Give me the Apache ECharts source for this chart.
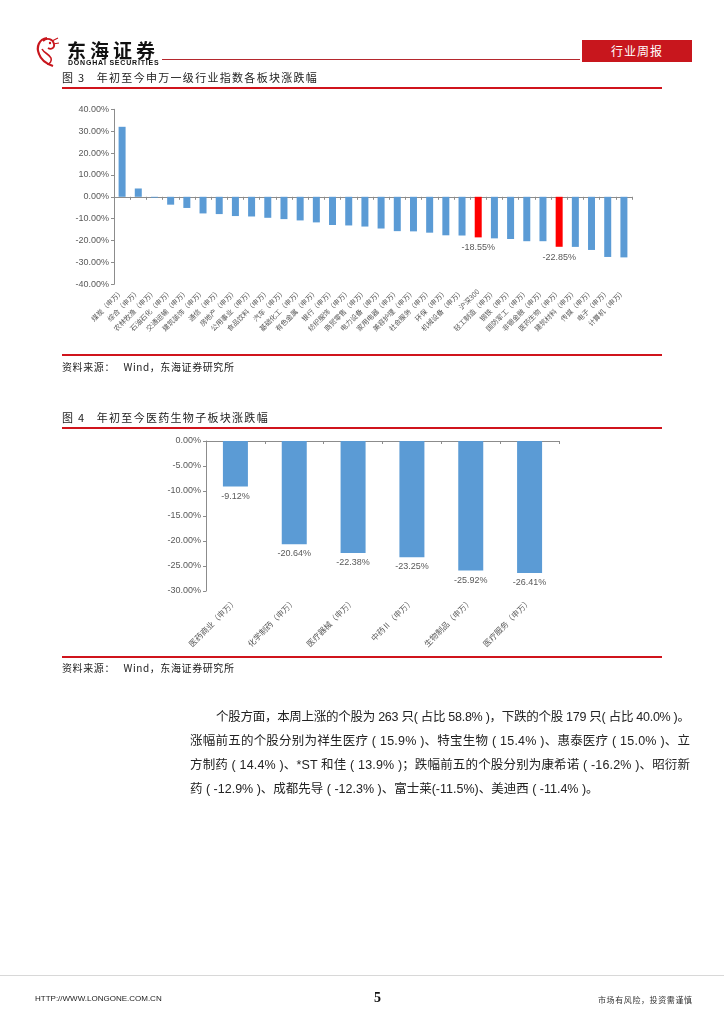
<!DOCTYPE html>
<html><head><meta charset="utf-8">
<script src="https://cdn.jsdelivr.net/npm/echarts@6/dist/echarts.min.js"></script>
<style>
html,body{margin:0;padding:0;background:#fff;}
body{width:724px;height:1024px;position:relative;overflow:hidden;font-family:"Noto Sans CJK SC","Liberation Sans",sans-serif;color:#222;}
.abs{position:absolute;white-space:nowrap;}
.rl{position:absolute;height:2px;background:#d0141c;}
.cap{font-size:11px;color:#222;letter-spacing:1.3px;}
.src{font-size:10px;color:#222;letter-spacing:0.6px;}
.para{position:absolute;left:190px;width:500px;font-size:12.5px;line-height:24px;color:#222;font-family:"Liberation Sans","Noto Sans CJK SC",sans-serif;}
.para div{white-space:nowrap;}
.para span{display:inline-block;}
#chart{position:absolute;left:0;top:0;width:724px;height:1024px;}
</style></head>
<body>
<div id="chart"></div>

<!-- header -->
<svg class="abs" style="left:33px;top:35px" width="28" height="34" viewBox="0 0 28 34">
  <path d="M14 3 C6 4 3 12 6 19 C8 25 14 29 20 31" stroke="#c8161d" stroke-width="2.2" fill="none"/>
  <path d="M10 6 C14 2 20 4 21 9 C22 13 18 15 15 13" stroke="#c8161d" stroke-width="1.8" fill="none"/>
  <path d="M9 14 C11 18 16 19 18 23 C19 26 17 29 14 29" stroke="#c8161d" stroke-width="1.6" fill="none"/>
  <path d="M19 6 L25 3 M20 9 L26 8" stroke="#c8161d" stroke-width="1.2"/>
  <circle cx="17" cy="8" r="1.2" fill="#c8161d"/>
</svg>
<div class="abs" style="left:67px;top:36px;font-size:19px;font-weight:bold;letter-spacing:4px;color:#111;">东海证券</div>
<div class="abs" style="left:68px;top:59px;font-size:7px;font-weight:bold;letter-spacing:0.8px;color:#111;font-family:'Liberation Sans';">DONGHAI SECURITIES</div>
<div class="abs" style="left:162px;top:59px;width:418px;height:1px;background:#b5282e;"></div>
<div class="abs" style="left:582px;top:40px;width:110px;height:22px;background:#c8161d;color:#fff;font-size:12px;line-height:22px;text-align:center;letter-spacing:1px;">行业周报</div>

<!-- figure 3 -->
<div class="abs cap" style="left:62px;top:69px;">图 3&nbsp;&nbsp;&nbsp;年初至今申万一级行业指数各板块涨跌幅</div>
<div class="rl" style="left:62px;top:87px;width:600px;"></div>
<div class="rl" style="left:62px;top:354px;width:600px;"></div>
<div class="abs src" style="left:62px;top:359px;">资料来源：&nbsp;&nbsp;&nbsp;Wind，东海证券研究所</div>

<!-- figure 4 -->
<div class="abs cap" style="left:62px;top:409px;">图 4&nbsp;&nbsp;&nbsp;年初至今医药生物子板块涨跌幅</div>
<div class="rl" style="left:62px;top:427px;width:600px;"></div>
<div class="rl" style="left:62px;top:656px;width:600px;"></div>
<div class="abs src" style="left:62px;top:660px;">资料来源：&nbsp;&nbsp;&nbsp;Wind，东海证券研究所</div>

<!-- paragraph -->
<div class="para" style="top:705px;">
  <div style="padding-left:26px;"><span data-w="474">个股方面，本周上涨的个股为 263 只( 占比 58.8% )，下跌的个股 179 只( 占比 40.0% )。</span></div>
  <div><span data-w="500">涨幅前五的个股分别为祥生医疗 ( 15.9% )、特宝生物 ( 15.4% )、惠泰医疗 ( 15.0% )、立</span></div>
  <div><span data-w="500">方制药 ( 14.4% )、*ST 和佳 ( 13.9% )；跌幅前五的个股分别为康希诺 ( -16.2% )、昭衍新</span></div>
  <div><span>药 ( -12.9% )、成都先导 ( -12.3% )、富士莱(-11.5%)、美迪西 ( -11.4% )。</span></div>
</div>

<!-- footer -->
<div class="abs" style="left:0;top:975px;width:724px;height:1px;background:#d8d8d8;"></div>
<div class="abs" style="left:35px;top:994px;font-size:8px;font-family:'Liberation Sans';color:#222;">HTTP://WWW.LONGONE.COM.CN</div>
<div class="abs" style="left:374px;top:990px;font-size:14px;font-weight:bold;font-family:'Liberation Serif';color:#111;">5</div>
<div class="abs" style="left:598px;top:994px;font-size:8px;letter-spacing:0.6px;color:#333;">市场有风险，投资需谨慎</div>

<script>
// fit paragraph lines to their widths
document.querySelectorAll('.para span[data-w]').forEach(s => {
  const target = +s.dataset.w;
  const w = s.getBoundingClientRect().width;
  const n = s.textContent.length;
  s.style.letterSpacing = ((target - w) / (n - 1)) + 'px';
});

// Figure 3 data
const categories1 = ['煤炭（申万）','综合（申万）','农林牧渔（申万）','石油石化（申万）','交通运输（申万）','建筑装饰（申万）','通信（申万）','房地产（申万）','公用事业（申万）','食品饮料（申万）','汽车（申万）','基础化工（申万）','有色金属（申万）','银行（申万）','纺织服饰（申万）','商贸零售（申万）','电力设备（申万）','家用电器（申万）','美容护理（申万）','社会服务（申万）','环保（申万）','机械设备（申万）','沪深300','轻工制造（申万）','钢铁（申万）','国防军工（申万）','非银金融（申万）','医药生物（申万）','建筑材料（申万）','传媒（申万）','电子（申万）','计算机（申万）'];
const values1 = [32.0,3.8,-0.4,-3.6,-5.1,-7.6,-7.9,-8.8,-9.0,-9.6,-10.2,-10.8,-11.7,-12.9,-13.1,-13.6,-14.5,-15.7,-15.8,-16.4,-17.6,-17.7,-18.55,-19.0,-19.3,-20.3,-20.3,-22.85,-22.9,-24.3,-27.5,-27.7];
const highlight1 = ['沪深300','医药生物（申万）'];
const yTicks1 = {min:-40, max:40, step:10};

// Figure 4 data
const categories2 = ['医药商业（申万）','化学制药（申万）','医疗器械（申万）','中药Ⅱ（申万）','生物制品（申万）','医疗服务（申万）'];
const values2 = [-9.12,-20.64,-22.38,-23.25,-25.92,-26.41];
const yTicks2 = {min:-30, max:0, step:5};

const BLUE = '#5b9bd5', RED = '#ff0000', AX = '#8c8c8c', TXT = '#595959';
const pct = v => v.toFixed(2) + '%';

const data1 = values1.map((v, i) => {
  const hi = highlight1.includes(categories1[i]);
  return {value: v, itemStyle: {color: hi ? RED : BLUE}, label: {show: hi}};
});

function catLabelAxis(grid, cats, fs, margin) {
  return {gridIndex: grid, type: 'category', data: cats, position: 'bottom',
    axisLine: {show: false, onZero: false}, axisTick: {show: false},
    axisLabel: {interval: 0, rotate: 45, fontSize: fs, color: TXT, margin: margin, fontFamily: 'Noto Sans CJK SC'}};
}
function zeroAxis(grid, cats) {
  return {gridIndex: grid, type: 'category', data: cats, position: 'bottom',
    axisLine: {show: true, onZero: true, lineStyle: {color: AX, width: 1}},
    axisTick: {show: true, interval: 0, length: 3, lineStyle: {color: AX}},
    axisLabel: {show: false, interval: 0}};
}
function valAxis(grid, t) {
  return {gridIndex: grid, type: 'value', min: t.min, max: t.max, interval: t.step,
    axisLine: {show: true, lineStyle: {color: AX}},
    axisTick: {show: true, length: 3, lineStyle: {color: AX}},
    splitLine: {show: false},
    axisLabel: {formatter: pct, fontSize: 9, color: TXT, margin: 5, fontFamily: 'Liberation Sans'}};
}

const chart = echarts.init(document.getElementById('chart'), null, {renderer: 'canvas'});
chart.setOption({
  animation: false,
  grid: [
    {left: 114, top: 109.3, width: 518, height: 175},
    {left: 206, top: 441, width: 353, height: 150}
  ],
  xAxis: [
    catLabelAxis(0, categories1, 7, 6),
    zeroAxis(0, categories1),
    catLabelAxis(1, categories2, 8, 9),
    zeroAxis(1, categories2)
  ],
  yAxis: [valAxis(0, yTicks1), valAxis(1, yTicks2)],
  series: [
    {type: 'bar', xAxisIndex: 0, yAxisIndex: 0, data: data1, barWidth: 7,
      label: {position: 'bottom', distance: 6, formatter: p => pct(p.value), fontSize: 9, color: TXT, fontFamily: 'Liberation Sans'}},
    {type: 'bar', xAxisIndex: 2, yAxisIndex: 1, data: values2, barWidth: 25,
      itemStyle: {color: BLUE},
      label: {show: true, position: 'bottom', distance: 5, formatter: p => pct(p.value), fontSize: 9, color: TXT, fontFamily: 'Liberation Sans'}}
  ]
});
</script>
</body></html>
